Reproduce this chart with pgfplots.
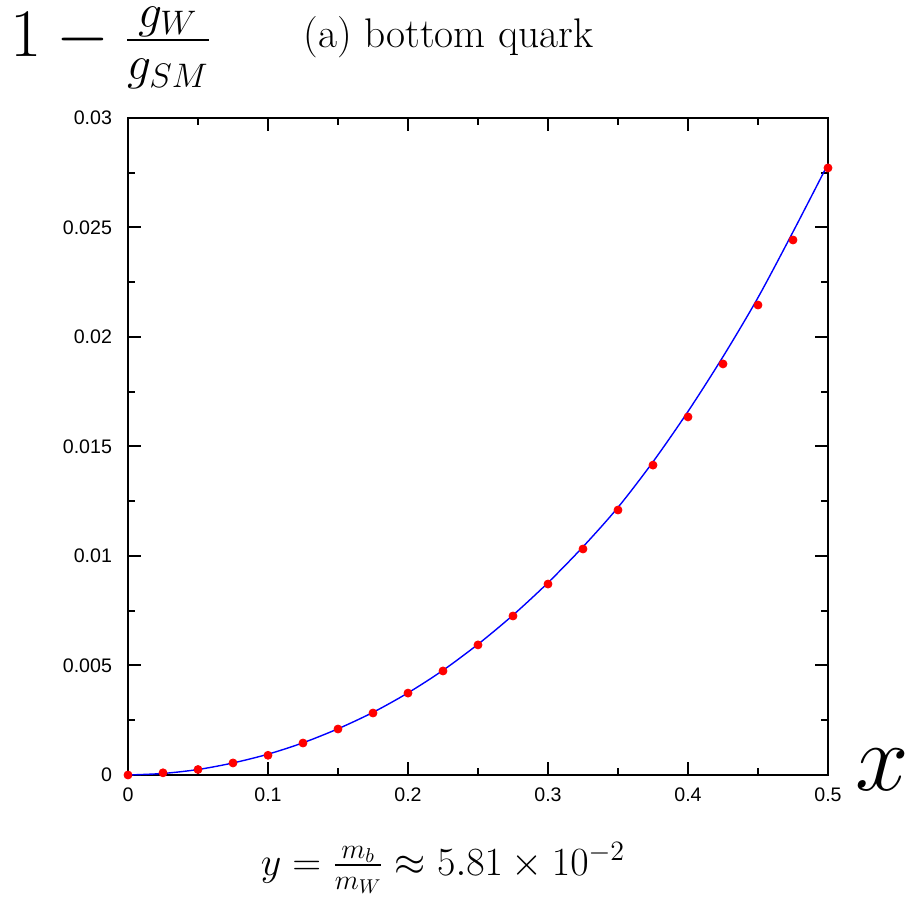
\RequirePackage{fix-cm}
\documentclass[border=0pt]{standalone}
\usepackage{amsmath}
\usepackage{fontspec}
\usepackage{pgfplots}
\pgfplotsset{compat=1.18}
\newfontfamily\arial{Liberation Sans}

\begin{document}
\begin{tikzpicture}
\begin{axis}[
  scale only axis,
  width=350pt, height=328.5pt,
  xmin=0, xmax=0.5, ymin=0, ymax=0.03,
  xtick={0,0.1,0.2,0.3,0.4,0.5},
  ytick={0,0.005,0.01,0.015,0.02,0.025,0.03},
  minor x tick num=1, minor y tick num=1,
  major tick length=6.5pt, minor tick length=3.5pt,
  scaled y ticks=false,
  yticklabel style={/pgf/number format/fixed, /pgf/number format/precision=3, xshift=-4.5pt},
  xticklabel style={/pgf/number format/fixed, yshift=-3pt},
  /pgf/number format/assume math mode=true,
  ticklabel style={font=\arial\fontsize{9.8}{10}\selectfont},
  axis line style={line width=1pt},
  every tick/.style={line width=1pt, black},
  clip=false,
]
  % fitted curve
  \addplot[blue, line width=0.7pt, smooth] coordinates {
    (0,0) (0.025,0.00007) (0.05,0.00025) (0.075,0.00055) (0.1,0.00095)
    (0.125,0.00147) (0.15,0.00211) (0.175,0.00286) (0.2,0.00375)
    (0.225,0.00478) (0.25,0.00597) (0.275,0.0073) (0.3,0.00878)
    (0.325,0.01042) (0.35,0.01222) (0.375,0.0143) (0.4,0.0166)
    (0.425,0.0191) (0.45,0.0218) (0.475,0.0248) (0.5,0.0279)
  };
  % computed points
  \addplot[only marks, mark=*, mark size=2pt, red] coordinates {
    (0,0) (0.025,0.0001) (0.05,0.00025) (0.075,0.00055) (0.1,0.0009)
    (0.125,0.00146) (0.15,0.0021) (0.175,0.00283) (0.2,0.00374)
    (0.225,0.00475) (0.25,0.00594) (0.275,0.00726) (0.3,0.00872)
    (0.325,0.01032) (0.35,0.0121) (0.375,0.01415) (0.4,0.01635)
    (0.425,0.01877) (0.45,0.02146) (0.475,0.02443) (0.5,0.02772)
  };
  \coordinate (sw) at (rel axis cs:0,0);
  \coordinate (ne) at (rel axis cs:1,1);
  \node[anchor=base west, inner sep=0pt, font=\fontsize{20.7}{22}\selectfont]
    at ([yshift=35pt]rel axis cs:0.25,1) {(a) bottom quark};
  \node[anchor=west, inner sep=0pt, font=\fontsize{34}{36}\selectfont]
    at ([xshift=-59pt,yshift=35pt]rel axis cs:0,1) {$1-\tfrac{g_W}{g_{SM}}$};
  \node[inner sep=0pt, font=\fontsize{48}{50}\selectfont]
    at ([xshift=27pt,yshift=2.5pt]rel axis cs:1,0) {$x$};
  \node[font=\fontsize{20}{22}\selectfont]
    at ([yshift=-46.5pt]rel axis cs:0.45,0) {$y=\tfrac{m_b}{m_W}\approx 5.81\times10^{-2}$};
\end{axis}
\pgfresetboundingbox
\path[use as bounding box] ([xshift=-64pt,yshift=-64pt]sw) rectangle ([xshift=41.5pt,yshift=59pt]ne);
\end{tikzpicture}
\end{document}
